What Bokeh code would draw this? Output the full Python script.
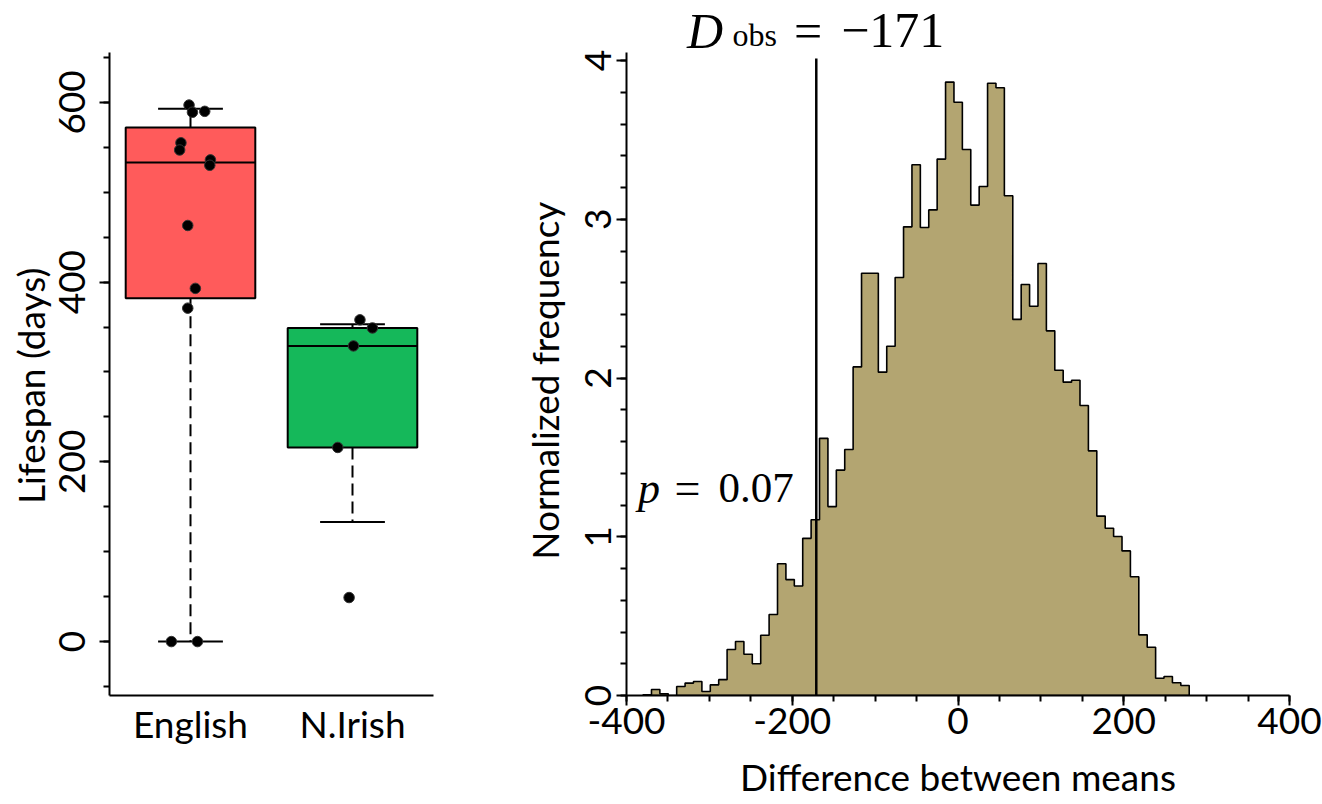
import numpy as np
from bokeh.plotting import figure
from bokeh.layouts import row
from bokeh.models import FixedTicker, Range1d, Label
from bokeh.embed import file_html
from bokeh.resources import INLINE

# ---------------- data ----------------
categories = ["English", "N.Irish"]
english_values = [597, 589, 590, 555, 547, 536, 530, 463, 393, 371, 0, 0]
english_jitter = [-0.009, 0.012, 0.088, -0.059, -0.067, 0.123, 0.119, -0.017, 0.030, -0.017, -0.118, 0.043]
nirish_values = [358, 349, 329, 216, 49]
nirish_jitter = [0.046, 0.123, 0.006, -0.091, -0.021]

box_q1 = [382, 216]
box_median = [533, 329]
box_q3 = [572, 349]
whisker_low = [0, 133]
whisker_high = [593, 353]
box_colors = ["#FF5B5B", "#15B85A"]

hist_min = -380
hist_max = 279
hist_values = [0.005, 0.038, 0.011, 0.0, 0.057, 0.078, 0.088, 0.025, 0.067, 0.100,
               0.290, 0.340, 0.260, 0.200, 0.380, 0.510, 0.830, 0.730, 0.690, 0.990,
               1.107, 1.620, 1.190, 1.420, 1.550, 2.070, 2.660, 2.660, 2.037, 2.200,
               2.633, 2.952, 3.343, 2.948, 3.059, 3.379, 3.864, 3.737, 3.439, 3.089,
               3.206, 3.857, 3.828, 3.148, 2.369, 2.589, 2.452, 2.721, 2.297, 2.049,
               1.974, 1.986, 1.827, 1.541, 1.130, 1.054, 1.002, 0.911, 0.748, 0.382,
               0.304, 0.109, 0.120, 0.080, 0.063]
d_obs = -171
p_value = 0.07
x_ticks = [-400, -200, 0, 200, 400]
y_ticks = [0, 1, 2, 3, 4]

FONT = "Lato"
FS = "37px"
MATH = "Liberation Serif"
NBSP = "\u00a0"   # trailing padding moves the rotated axis titles down to the axis-line centre


def style_axes(p):
    for ax in (p.xaxis[0], p.yaxis[0]):
        ax.axis_line_width = 2
        ax.axis_line_color = "black"
        ax.major_tick_line_width = 2
        ax.minor_tick_line_width = 2
        ax.major_tick_line_color = "black"
        ax.minor_tick_line_color = "black"
        ax.major_tick_in = 0
        ax.minor_tick_in = 0
        ax.major_tick_out = 10
        ax.minor_tick_out = 6
        ax.major_label_text_font = FONT
        ax.major_label_text_font_size = FS
        ax.major_label_text_color = "black"
        ax.axis_label_text_font = FONT
        ax.axis_label_text_font_size = FS
        ax.axis_label_text_font_style = "normal"
        ax.axis_label_text_color = "black"
    p.xgrid.visible = False
    p.ygrid.visible = False
    p.outline_line_color = None
    p.background_fill_color = "white"
    p.border_fill_color = "white"


# Both frames reach the top of the canvas; the axis lines are limited with bounds.
# ---------------- left: box plot ----------------
W1 = 470
left_ppu = 0.9                      # reference scale: pixels per day
left_top = 642 / left_ppu           # value at the canvas top (0 days sits 642 px down)
p1 = figure(width=W1, height=804, output_backend="svg", toolbar_location=None, title=None,
            x_range=Range1d(0.5, 2.5), y_range=Range1d(-60, left_top),
            min_border_left=109, min_border_right=W1 - 433,
            min_border_top=0, min_border_bottom=109)
style_axes(p1)

xc = [1, 2]
half = 0.4
cap = 0.2
for i in range(2):
    p1.segment(x0=[xc[i]], y0=[box_q3[i]], x1=[xc[i]], y1=[whisker_high[i]],
               line_color="black", line_width=2, line_dash="12 6")
    p1.segment(x0=[xc[i]], y0=[box_q1[i]], x1=[xc[i]], y1=[whisker_low[i]],
               line_color="black", line_width=2, line_dash="12 6")
    p1.segment(x0=[xc[i] - cap, xc[i] - cap], y0=[whisker_high[i], whisker_low[i]],
               x1=[xc[i] + cap, xc[i] + cap], y1=[whisker_high[i], whisker_low[i]],
               line_color="black", line_width=2)
    p1.quad(left=[xc[i] - half], right=[xc[i] + half], bottom=[box_q1[i]], top=[box_q3[i]],
            fill_color=box_colors[i], line_color="black", line_width=2)
    p1.segment(x0=[xc[i] - half], y0=[box_median[i]], x1=[xc[i] + half], y1=[box_median[i]],
               line_color="black", line_width=2)

p1.scatter(x=[1 + j for j in english_jitter], y=english_values, size=10.5,
           fill_color="black", line_color="#333333")
p1.scatter(x=[2 + j for j in nirish_jitter], y=nirish_values, size=10.5,
           fill_color="black", line_color="#333333")

p1.xaxis.ticker = FixedTicker(ticks=xc, minor_ticks=[])
p1.xaxis.major_label_overrides = {1: categories[0], 2: categories[1]}
p1.xaxis.major_tick_line_color = None
p1.xaxis.major_tick_out = 0
p1.xaxis.major_label_standoff = 5
p1.yaxis.bounds = (-60, 655)
p1.yaxis.ticker = FixedTicker(ticks=[0, 200, 400, 600],
                              minor_ticks=list(range(-50, 651, 50)))
p1.yaxis.major_label_orientation = "parallel"
p1.yaxis.major_label_standoff = 14
p1.yaxis.axis_label = "Lifespan (days)" + NBSP * 8
p1.yaxis.axis_label_standoff = 4

# ---------------- right: histogram ----------------
W2 = 1322 - W1
px_per_unit = 158.75           # vertical scale of the reference (pixels per frequency unit)
y_top = 4 + 60 / px_per_unit   # value at the canvas top
p2 = figure(width=W2, height=804, output_backend="svg", toolbar_location=None, title=None,
            x_range=Range1d(-400, 400), y_range=Range1d(0, y_top),
            min_border_left=626 - W1, min_border_right=33,
            min_border_top=0, min_border_bottom=109)
style_axes(p2)

nb = len(hist_values)
edges = np.linspace(hist_min, hist_max, nb + 1)
px, py = [edges[0]], [0.0]
for k in range(nb):
    px += [edges[k], edges[k + 1]]
    py += [hist_values[k], hist_values[k]]
px.append(edges[-1])
py.append(0.0)
p2.patch(px, py, fill_color="#B3A571", line_color="black", line_width=1.6)

p2.segment(x0=[d_obs], y0=[0], x1=[d_obs], y1=[4.013], line_color="black", line_width=2.5)

p2.xaxis.ticker = FixedTicker(ticks=x_ticks, minor_ticks=list(range(-400, 401, 50)))
p2.xaxis.major_label_overrides = {t: str(t) for t in x_ticks}
p2.xaxis.axis_label = "Difference between means"
p2.xaxis.major_label_standoff = 2
p2.xaxis.axis_label_standoff = 17
p2.yaxis.bounds = (0, 4.05)
p2.yaxis.ticker = FixedTicker(ticks=y_ticks,
                              minor_ticks=[round(0.2 * i, 1) for i in range(0, 21)])
p2.yaxis.major_label_orientation = "parallel"
p2.yaxis.major_label_standoff = 6
p2.yaxis.axis_label = "Normalized frequency" + NBSP * 7
p2.yaxis.axis_label_standoff = 15


def lab(p, x, y, text, size, style="normal", align="left"):
    p.add_layout(Label(x=x, y=y, text=text, text_font=MATH, text_font_size=f"{size}px",
                       text_font_style=style, text_align=align, text_baseline="alphabetic",
                       text_color="black"))


# title: D_obs = -171
lab(p2, d_obs - 156, 4.188, "D", 50, "italic")
lab(p2, d_obs - 101, 4.158, "obs", 32)
lab(p2, d_obs - 10, 4.188, "=", 50, align="center")
lab(p2, d_obs + 30, 4.188, "\u2212" + str(abs(d_obs)), 50)

# p = 0.07
lab(p2, -386, 1.304, "p", 44, "italic")
lab(p2, -342, 1.304, "=", 46)
lab(p2, -289, 1.304, f"{p_value:.2f}", 43)

layout = row(p1, p2)
open("out.html", "w").write(file_html(layout, INLINE))
